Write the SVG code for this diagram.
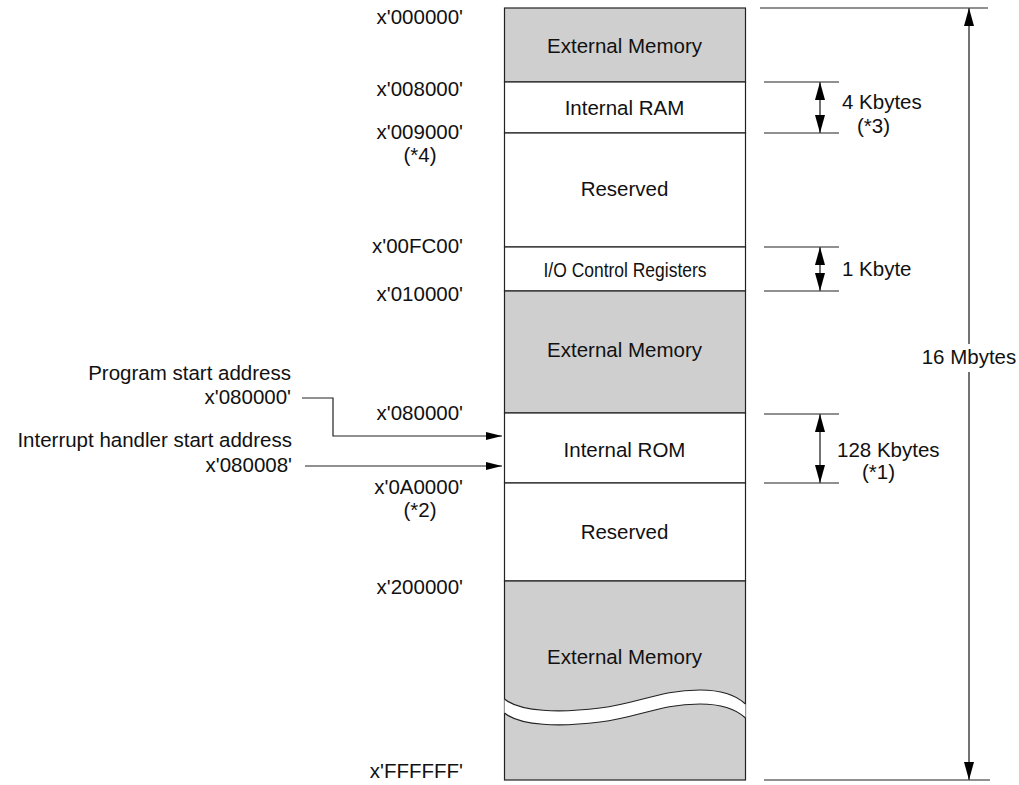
<svg xmlns="http://www.w3.org/2000/svg" width="1019" height="785" viewBox="0 0 1019 785">
<defs>
<style>
text{font-family:"Liberation Sans",Arial,sans-serif;font-size:20.5px;fill:#111}
.c{text-anchor:middle}
.r{text-anchor:end}
.box{stroke:#222;stroke-width:1.2}
.ext{fill:#cfcfcf}
.int{fill:#fff}
.ln{stroke:#222;stroke-width:1.2;fill:none}
.dim{stroke:#444;stroke-width:1.5;fill:none}
</style>
<marker id="ah" viewBox="0 0 16 8" refX="16" refY="4" markerWidth="16" markerHeight="8" markerUnits="userSpaceOnUse" orient="auto-start-reverse">
<path d="M0,0 L16,4 L0,8 z" fill="#000"/>
</marker>
<marker id="dh" viewBox="0 0 18 10" refX="18" refY="5" markerWidth="18" markerHeight="10" markerUnits="userSpaceOnUse" orient="auto-start-reverse">
<path d="M0,0 L18,5 L0,10 z" fill="#000"/>
</marker>
</defs>
<rect width="1019" height="785" fill="#fff"/>

<g id="ext-mem-1"><rect class="box ext" x="504.5" y="8" width="241" height="74"/><text class="c" x="624.5" y="53">External Memory</text></g>
<g id="internal-ram"><rect class="box int" x="504.5" y="82" width="241" height="51"/><text class="c" x="624.5" y="115">Internal RAM</text></g>
<g id="reserved-1"><rect class="box int" x="504.5" y="133" width="241" height="114"/><text class="c" x="624.5" y="196">Reserved</text></g>
<g id="io-regs"><rect class="box int" x="504.5" y="247" width="241" height="44"/><text class="c" x="625" y="277" textLength="163" lengthAdjust="spacingAndGlyphs">I/O Control Registers</text></g>
<g id="ext-mem-2"><rect class="box ext" x="504.5" y="291" width="241" height="122"/><text class="c" x="624.5" y="357">External Memory</text></g>
<g id="internal-rom"><rect class="box int" x="504.5" y="413" width="241" height="70"/><text class="c" x="624.5" y="457">Internal ROM</text></g>
<g id="reserved-2"><rect class="box int" x="504.5" y="483" width="241" height="98"/><text class="c" x="624.5" y="539">Reserved</text></g>
<g id="ext-mem-3"><rect class="box ext" x="504.5" y="581" width="241" height="199"/><text class="c" x="624.5" y="664">External Memory</text>
<path d="M504.5,699 C520,712 560,713 600,708 C640,703 660,690 700,690 C725,690 738,697 745.5,704 L745.5,718 C738,711 725,704 700,704 C660,704 640,717 600,722 C560,727 520,726 504.5,713 Z" fill="#fff"/>
<path class="ln" d="M504.5,699 C520,712 560,713 600,708 C640,703 660,690 700,690 C725,690 738,697 745.5,704"/>
<path class="ln" d="M504.5,713 C520,726 560,727 600,722 C640,717 660,704 700,704 C725,704 738,711 745.5,718"/>
</g>

<g id="addresses">
<text class="r" x="463" y="24">x'000000'</text>
<text class="r" x="463" y="96">x'008000'</text>
<text class="r" x="463" y="139">x'009000'</text>
<text class="c" x="420" y="162">(*4)</text>
<text class="r" x="463" y="253">x'00FC00'</text>
<text class="r" x="463" y="301">x'010000'</text>
<text class="r" x="463" y="420">x'080000'</text>
<text class="r" x="463" y="494">x'0A0000'</text>
<text class="c" x="420" y="517">(*2)</text>
<text class="r" x="463" y="594">x'200000'</text>
<text class="r" x="463" y="778">x'FFFFFF'</text>
</g>

<g id="start-labels">
<text class="r" x="291" y="380">Program start address</text>
<text class="r" x="291" y="404">x'080000'</text>
<text class="r" x="292" y="447">Interrupt handler start address</text>
<text class="r" x="292" y="472">x'080008'</text>
</g>

<g id="size-labels">
<text x="842" y="109">4 Kbytes</text>
<text x="857" y="133">(*3)</text>
<text x="842" y="276">1 Kbyte</text>
<text x="837" y="457">128 Kbytes</text>
<text x="862" y="479">(*1)</text>
<text class="c" x="969" y="364">16 Mbytes</text>
</g>

<g id="connectors">
<path class="ln" d="M302,398 H333 V436 H502" marker-end="url(#ah)"/>
<path class="ln" d="M305,466 H502" marker-end="url(#ah)"/>
<path class="ln" d="M764,82 H839 M764,133 H839"/>
<path class="dim" d="M820,82 V133" marker-start="url(#dh)" marker-end="url(#dh)"/>
<path class="ln" d="M764,247 H839 M764,291 H839"/>
<path class="dim" d="M820,247 V291" marker-start="url(#dh)" marker-end="url(#dh)"/>
<path class="ln" d="M764,414 H839 M764,483 H839"/>
<path class="dim" d="M820,414 V483" marker-start="url(#dh)" marker-end="url(#dh)"/>
<path class="ln" d="M760,8 H988 M764,780 H990"/>
<path class="dim" d="M969,8 V344" marker-start="url(#dh)"/>
<path class="dim" d="M969,372 V780" marker-end="url(#dh)"/>
</g>
</svg>
